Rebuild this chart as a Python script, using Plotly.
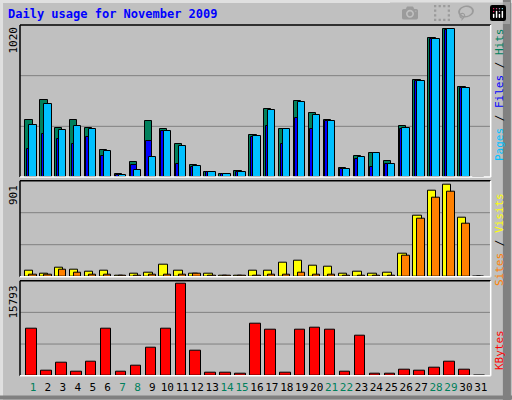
import plotly.graph_objects as go

days = list(range(1, 32))
hits  = [392,531,341,392,341,189,23,106,385,330,231,85,37,23,39,288,468,330,524,441,392,60,143,164,113,351,669,957,1020,621,0]
files = [196,300,261,226,277,143,14,85,247,316,88,67,37,18,32,277,351,226,406,330,385,58,127,69,92,334,662,950,1013,612,0]
pages = [362,507,328,355,334,182,16,51,136,321,212,74,37,18,32,281,461,330,517,431,385,58,136,164,92,337,660,950,1020,612,0]
visits = [55,32,91,65,46,55,13,26,36,114,55,26,26,13,13,55,55,133,153,104,94,26,46,26,36,221,592,835,901,572,0]
sites  = [23,20,72,42,23,23,13,13,23,23,23,26,13,13,13,13,23,23,36,23,23,13,13,13,13,208,562,767,832,514,0]
kbytes = [8036,804,2181,631,2353,8036,631,1665,4764,8036,15793,4248,459,459,287,8897,7864,459,7864,8208,7864,631,6831,287,287,976,804,1320,2353,976,0]
weekend = {1,7,8,14,15,21,22,28,29}
tick_text = [f'<span style="color:{"#00805c" if d in weekend else "#000000"}">{d}</span>' for d in days]

MONO = "DejaVu Sans Mono"
fig = go.Figure()
line = dict(color="black", width=1)
def bar(y, color, off, w, ax):
    fig.add_trace(go.Bar(x=days, y=y, marker=dict(color=color, line=line), offset=off, width=w,
                         xaxis="x" + ax, yaxis="y" + ax, showlegend=False, hoverinfo="skip"))
bar(hits, "#00805c", -0.516, 0.49, "")
bar(files, "#0000ff", -0.42, 0.4, "")
bar(pages, "#00c0ff", -0.25, 0.49, "")
bar(visits, "#ffff00", -0.535, 0.56, "2")
bar(sites, "#ff8000", -0.25, 0.49, "2")
bar(kbytes, "#ff0000", -0.45, 0.7, "3")

xr = [0.129, 31.66]
xd = [20/512, 490.7/512]
doms = [(0.5575, 0.9375), (0.30825, 0.54825), (0.06075, 0.29825)]
tops = [1050, 936, 16350]
ax = dict(range=xr, domain=xd, showgrid=False, zeroline=False, showticklabels=False, ticks="", fixedrange=True)
yax = lambda i: dict(range=[0, tops[i]], domain=list(doms[i]), showgrid=False, zeroline=False,
                     showticklabels=False, ticks="", fixedrange=True, anchor=["x","x2","x3"][i])
fig.update_layout(
    width=512, height=400, margin=dict(l=0, r=0, t=0, b=0),
    paper_bgcolor="#c0c0c0", plot_bgcolor="#c0c0c0", barmode="overlay", bargap=0,
    xaxis=dict(ax, anchor="y"), xaxis2=dict(ax, anchor="y2"),
    xaxis3=dict(ax, anchor="y3", showticklabels=True, tickmode="array", tickvals=days, ticktext=tick_text,
                tickangle=0, tickfont=dict(family=MONO, size=11, color="black"), ticklen=1, tickcolor="#c0c0c0", ticks="outside"),
    yaxis=yax(0), yaxis2=yax(1), yaxis3=yax(2),
)
shapes = []
for i, (y0, y1) in enumerate(doms):
    for f in (1/3, 2/3):
        yy = y0 + (y1 - y0) * f
        shapes.append(dict(type="line", xref="paper", yref="paper", x0=xd[0], x1=xd[1], y0=yy, y1=yy, line=dict(color="#808080", width=1), layer="below"))
    shapes.append(dict(type="line", xref="paper", yref="paper", x0=xd[0], x1=xd[1], y0=y1, y1=y1, line=dict(color="black", width=1.5)))
    shapes.append(dict(type="line", xref="paper", yref="paper", x0=xd[0], x1=xd[0], y0=y0, y1=y1, line=dict(color="black", width=1.5)))
    shapes.append(dict(type="line", xref="paper", yref="paper", x0=xd[1], x1=xd[1], y0=y0, y1=y1, line=dict(color="white", width=1.5)))
    shapes.append(dict(type="line", xref="paper", yref="paper", x0=xd[0], x1=xd[1], y0=y0, y1=y0, line=dict(color="white", width=1.5)))
shapes.append(dict(type="line", xref="paper", yref="paper", x0=0.003, x1=0.003, y0=0, y1=1, line=dict(color="#e0e0e0", width=3)))
shapes.append(dict(type="line", xref="paper", yref="paper", x0=0, x1=1, y0=0.996, y1=0.996, line=dict(color="#e0e0e0", width=3)))
shapes.append(dict(type="line", xref="paper", yref="paper", x0=0.99, x1=0.99, y0=0, y1=1, line=dict(color="#808080", width=8)))
shapes.append(dict(type="line", xref="paper", yref="paper", x0=0, x1=1, y0=0.006, y1=0.006, line=dict(color="#808080", width=4)))
fig.update_layout(shapes=shapes)

ann = [dict(x=6/512, y=1 - 14/400, xref="paper", yref="paper", text="<b>Daily usage for November 2009</b>",
            font=dict(family=MONO, size=12, color="#0000ff"), showarrow=False, xanchor="left", yanchor="middle")]
def lab(txt, ytop):
    return dict(x=13/512, y=1 - ytop/400, xref="paper", yref="paper", text=txt, textangle=-90,
                font=dict(family=MONO, size=11, color="black"), showarrow=False, xanchor="center", yanchor="top")
ann += [lab("1020", 25), lab("901", 183), lab("15793", 284)]
def rlab(html, ymid):
    return dict(x=499/512, y=1 - ymid/400, xref="paper", yref="paper", text=html, textangle=-90,
                font=dict(family=MONO, size=11), showarrow=False, xanchor="center", yanchor="middle")
ann.append(rlab('<span style="color:#00c0ff">Pages</span><span style="color:#000000"> / </span><span style="color:#0000ff">Files</span><span style="color:#000000"> / </span><span style="color:#00805c">Hits</span>', 95))
ann.append(rlab('<span style="color:#ff8000">Sites</span><span style="color:#000000"> / </span><span style="color:#ffff00">Visits</span>', 240))
ann.append(rlab('<span style="color:#ff0000">KBytes</span>', 350))
fig.update_layout(annotations=ann)
fig.write_html("out.html")
with open("out.html", encoding="utf-8") as fh:
    html = fh.read()
html = html.replace("<head>", "<head><style>html,body{margin:0;padding:0;overflow:hidden}</style>", 1)
with open("out.html", "w", encoding="utf-8") as fh:
    fh.write(html)
